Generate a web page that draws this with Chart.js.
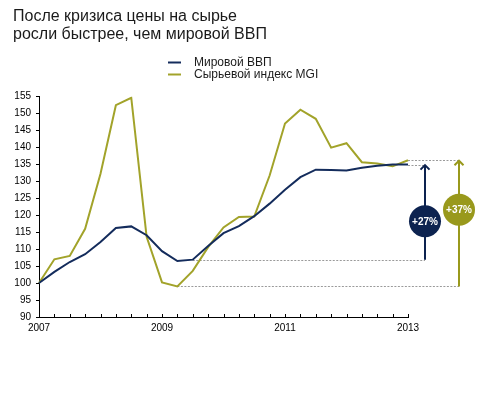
<!DOCTYPE html>
<html>
<head>
<meta charset="utf-8">
<script src="https://cdn.jsdelivr.net/npm/chart.js@4/dist/chart.umd.min.js"></script>
<style>
  body { margin: 0; background: #fff; }
  canvas { display: block; }
</style>
</head>
<body>
<canvas id="chart" width="496" height="397"></canvas>
<script>
const quarters = [
    '2007 Q1', '2007 Q2', '2007 Q3', '2007 Q4',
    '2008 Q1', '2008 Q2', '2008 Q3', '2008 Q4',
    '2009 Q1', '2009 Q2', '2009 Q3', '2009 Q4',
    '2010 Q1', '2010 Q2', '2010 Q3', '2010 Q4',
    '2011 Q1', '2011 Q2', '2011 Q3', '2011 Q4',
    '2012 Q1', '2012 Q2', '2012 Q3', '2012 Q4',
    '2013 Q1'
];
const yearTicks = ['2007', '2009', '2011', '2013'];

const gdpValues = [100, 103.3, 106.2, 108.5, 112.1, 116.2, 116.7, 114.1, 109.4, 106.5, 106.9, 110.9, 114.7,
    116.8, 119.7, 123.4, 127.5, 131.2, 133.4, 133.3, 133.2, 134.0, 134.6, 134.9, 134.9];
const mgiValues = [100, 107, 108, 116, 132.2, 152.4, 154.6, 113.6, 100.2, 99.0, 103.6, 110.6, 116.4,
    119.5, 119.6, 131.7, 147.0, 151.1, 148.4, 139.9, 141.2, 135.6, 135.2, 134.4, 136.2];

const seriesNames = ['Мировой ВВП', 'Сырьевой индекс MGI'];
const growthLabels = ['+27%', '+37%'];
// quarter index the growth is measured from
const growthBase = [10, 9];

const FONT = '"Liberation Sans", Arial, Helvetica, sans-serif';
const NAVY = '#142c5c';
const OLIVE = '#a2a32a';
const NAVY_DARK = '#0d2350';
const OLIVE_DARK = '#99991c';

function drawArrow(ctx, x, yFrom, yTo, color) {
    ctx.save();
    ctx.strokeStyle = color;
    ctx.lineWidth = 2;
    ctx.beginPath();
    ctx.moveTo(x, yFrom);
    ctx.lineTo(x, yTo + 1);
    ctx.stroke();
    ctx.beginPath();
    ctx.moveTo(x - 4.5, yTo + 5);
    ctx.lineTo(x, yTo + 0.5);
    ctx.lineTo(x + 4.5, yTo + 5);
    ctx.stroke();
    ctx.restore();
}

function drawBadge(ctx, x, y, r, color, text) {
    ctx.save();
    ctx.fillStyle = color;
    ctx.beginPath();
    ctx.arc(x, y, r, 0, Math.PI * 2);
    ctx.fill();
    ctx.fillStyle = '#fff';
    ctx.font = 'bold 10px ' + FONT;
    ctx.textAlign = 'center';
    ctx.textBaseline = 'middle';
    ctx.fillText(text, x, y + 0.5);
    ctx.restore();
}

const extras = {
    id: 'extras',
    beforeDatasetsDraw(chart) {
        const ctx = chart.ctx;
        const xs = chart.scales.x;
        const ys = chart.scales.y;
        const last = quarters.length - 1;
        const arrowX = [xs.right + 17, xs.right + 51];
        const series = [gdpValues, mgiValues];

        ctx.save();
        ctx.strokeStyle = '#9a9a9a';
        ctx.lineWidth = 1;
        ctx.setLineDash([2, 1.5]);
        series.forEach((vals, i) => {
            const yb = Math.round(ys.getPixelForValue(vals[growthBase[i]])) + 0.5;
            const yt = Math.round(ys.getPixelForValue(vals[last])) + 0.5;
            ctx.beginPath();
            ctx.moveTo(xs.getPixelForValue(growthBase[i]), yb);
            ctx.lineTo(arrowX[i], yb);
            ctx.moveTo(xs.getPixelForValue(last), yt);
            ctx.lineTo(arrowX[i], yt);
            ctx.stroke();
        });
        ctx.restore();
    },
    afterDraw(chart) {
        const ctx = chart.ctx;
        const xs = chart.scales.x;
        const ys = chart.scales.y;
        const last = quarters.length - 1;

        // upward quarter ticks on the x axis
        ctx.save();
        ctx.strokeStyle = '#000';
        ctx.lineWidth = 1;
        ctx.beginPath();
        quarters.forEach((q, i) => {
            const x = Math.round(xs.getPixelForValue(i)) + 0.5;
            ctx.moveTo(x, xs.top);
            ctx.lineTo(x, xs.top - 3);
        });
        ctx.stroke();
        ctx.restore();

        // growth arrows and badges
        const arrowX = [xs.right + 17, xs.right + 51];
        const badgeAt = [118.2, 121.6];
        const colors = [NAVY_DARK, OLIVE_DARK];
        [gdpValues, mgiValues].forEach((vals, i) => {
            const yb = ys.getPixelForValue(vals[growthBase[i]]);
            const yt = ys.getPixelForValue(vals[last]);
            drawArrow(ctx, arrowX[i], yb, yt, colors[i]);
            drawBadge(ctx, arrowX[i], ys.getPixelForValue(badgeAt[i]), 16, colors[i], growthLabels[i]);
        });

        // legend, stacked
        ctx.save();
        ctx.font = '12px ' + FONT;
        ctx.textBaseline = 'middle';
        ctx.fillStyle = '#1a1a1a';
        [NAVY, OLIVE].forEach((c, i) => {
            const y = 62.5 + i * 12;
            ctx.strokeStyle = c;
            ctx.lineWidth = 2;
            ctx.beginPath();
            ctx.moveTo(168, y);
            ctx.lineTo(181, y);
            ctx.stroke();
            ctx.fillText(seriesNames[i], 194, y + 0.5);
        });
        ctx.restore();
    }
};

new Chart(document.getElementById('chart'), {
    type: 'line',
    data: {
        labels: quarters,
        datasets: [
            { label: seriesNames[0], data: gdpValues, borderColor: NAVY, borderWidth: 2, pointRadius: 0, tension: 0 },
            { label: seriesNames[1], data: mgiValues, borderColor: OLIVE, borderWidth: 2, pointRadius: 0, tension: 0 }
        ]
    },
    options: {
        responsive: false,
        animation: false,
        layout: { padding: { left: 13, right: 88, top: 0, bottom: 59 } },
        plugins: {
            legend: { display: false },
            tooltip: { enabled: false },
            title: {
                display: true,
                align: 'start',
                text: ['После кризиса цены на сырье', 'росли быстрее, чем мировой ВВП'],
                color: '#1a1a1a',
                font: { family: FONT, size: 16, weight: 'normal', lineHeight: 1.15 },
                padding: { top: 7, bottom: 52.6 }
            }
        },
        scales: {
            x: {
                type: 'category',
                offset: false,
                grid: { display: false, drawTicks: false },
                border: { display: true, color: '#000', width: 1 },
                ticks: {
                    autoSkip: false,
                    maxRotation: 0,
                    padding: 5,
                    color: '#000',
                    font: { family: FONT, size: 10 },
                    callback: function (v, i) {
                        const [year, q] = quarters[i].split(' ');
                        return q === 'Q1' && yearTicks.includes(year) ? year : '';
                    }
                },
                afterFit: function (scale) { scale.height = 21; }
            },
            y: {
                min: 90,
                max: 155,
                grid: { display: true, drawOnChartArea: false, drawTicks: true, tickLength: 3, color: '#000' },
                border: { display: true, color: '#000', width: 1 },
                ticks: {
                    stepSize: 5,
                    padding: 5,
                    color: '#000',
                    font: { family: FONT, size: 10 }
                },
                afterFit: function (scale) { scale.width = 26; }
            }
        }
    },
    plugins: [extras]
});
</script>
</body>
</html>
